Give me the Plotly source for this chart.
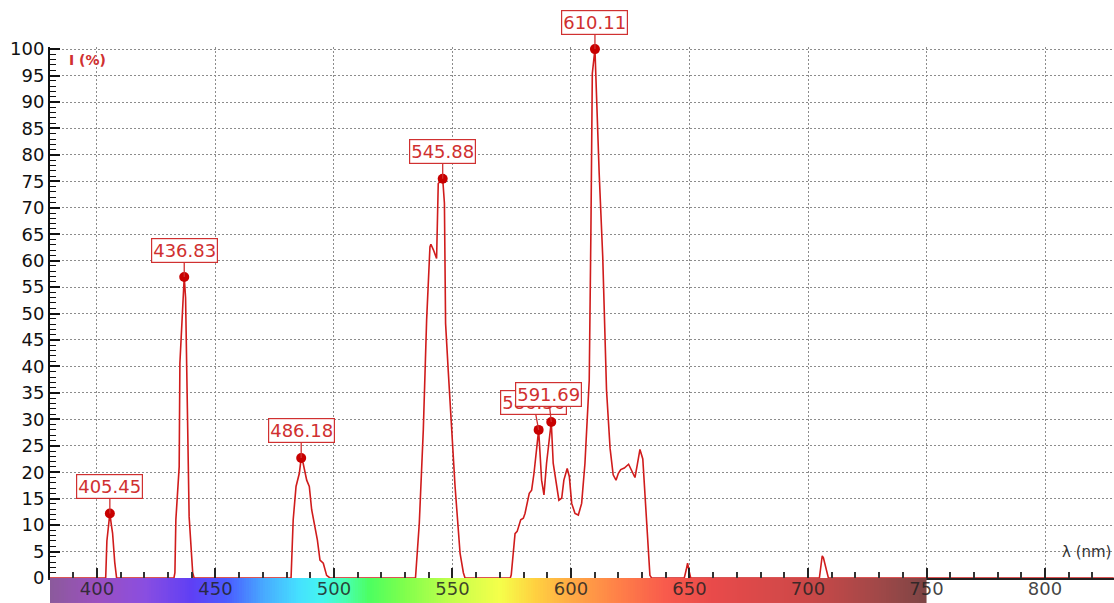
import numpy as np
import plotly.graph_objects as go

# ---------------- data ----------------
wavelength = [380, 403.7, 404.2, 404.6, 405.45, 406.1, 406.6, 407.5, 408.3,
              432.5, 432.9, 433.3, 434.7, 435.0, 436.2, 436.83, 437.4, 437.8, 438.9, 440.4, 441.0,
              481.9, 482.8, 484.0, 485.4, 486.18, 487.0, 488.5, 489.6, 490.6, 491.6, 493.0, 494.1, 495.5, 496.9, 498.3,
              534.4, 536.0, 537.7, 539.1, 540.5, 540.9, 542.0, 543.3, 544.0, 545.88, 546.6, 547.1, 548.2, 549.0,
              551.1, 553.2, 554.6, 555.3,
              574.4, 574.8, 576.4, 577.3, 578.2, 578.8, 579.9, 580.6, 582.4, 583.4, 584.4, 586.36, 587.6, 588.6,
              589.7, 591.69, 592.5, 594.0, 594.9, 596.1, 597.0, 598.4, 599.3, 600.3, 601.7, 603.1, 604.5, 605.9,
              606.9, 607.7, 608.4, 609.0, 610.11, 610.4, 611.9, 613.4, 614.3, 615.0, 616.5, 617.8, 619.0, 620.0,
              621.0, 622.5, 624.3, 625.6, 627.0, 628.0, 629.1, 630.3, 631.3, 632.3, 633.3, 634.0,
              647.8, 648.6, 649.2, 649.9, 650.5,
              704.8, 705.3, 706.0, 706.5, 707.2, 707.8, 708.6,
              829]
intensity = [0, 0, 7.0, 9.1, 12.2, 10.0, 8.5, 3.0, 0,
             0, 1.0, 11.0, 21.0, 40.6, 51.6, 56.9, 53.0, 40.6, 11.6, 1.0, 0,
             0, 11.0, 17.3, 19.8, 22.7, 21.7, 18.5, 17.3, 12.9, 10.4, 7.2, 3.4, 2.8, 0.5, 0,
             0, 10.3, 28.0, 48.8, 62.6, 63.1, 62.0, 60.4, 74.6, 75.5, 70.9, 48.1, 39.3, 33.0,
             17.3, 4.7, 1.0, 0,
             0, 0.6, 8.4, 8.8, 10.3, 11.0, 11.3, 12.2, 16.0, 16.6, 19.8, 28.0, 18.5, 15.7,
             21.7, 29.5, 21.7, 17.3, 14.7, 15.1, 18.5, 20.7, 19.2, 14.1, 12.2, 11.9, 14.1, 21.7,
             31.0, 37.4, 65.2, 95.4, 100.0, 95.4, 76.5, 60.7, 48.1, 35.5, 24.5, 19.5, 18.5, 19.8,
             20.5, 20.8, 21.5, 20.4, 19.0, 21.5, 24.3, 22.5, 15.0, 6.0, 0.5, 0,
             0, 1.5, 2.8, 1.2, 0,
             0, 2.0, 4.2, 3.8, 2.5, 1.0, 0,
             0]

peak_wavelength = [405.45, 436.83, 486.18, 545.88, 586.36, 591.69, 610.11]
peak_intensity = [12.2, 56.9, 22.7, 75.5, 28.0, 29.5, 100.0]
peak_labels = ["405.45", "436.83", "486.18", "545.88", "586.36", "591.69", "610.11"]
peak_label_dx = [0, 0, 0, 0, -5, -3, 0]

y_ticks = list(range(0, 101, 5))
x_tick_values = [400, 450, 500, 550, 600, 650, 700, 750, 800]
x_tick_labels = ["400", "450", "500", "550", "600", "650", "700", "750", "800"]

spectrum_nm = [380, 400, 420, 440, 455, 470, 485, 495, 505, 515, 530, 550, 570, 585, 600, 620, 640, 660, 700, 730, 750]
spectrum_colors = ["#8b5a9b", "#9b50c0", "#8a4ee0", "#5f3ff5", "#4a5cff", "#48a8ff", "#45e0ff", "#45f5f0",
                   "#48ffb0", "#4cff60", "#80ff4c", "#c4ff4c", "#f5ff4a", "#ffd040", "#ffaa45", "#ff8048",
                   "#f85a4c", "#e84a4a", "#cc4848", "#a04848", "#7d4545"]

# ---------------- styling ----------------
RED = "#d01c1c"
LABEL_RED = "#d03030"
FONT = "DejaVu Sans"

fig = go.Figure()

# spectrum colour bar (below the axis)
edges = np.arange(spectrum_nm[0], spectrum_nm[-1] + 1, 1.0)
centers = (edges[:-1] + edges[1:]) / 2
lo, hi = spectrum_nm[0], spectrum_nm[-1]
colorscale = [[(v - lo) / (hi - lo), c] for v, c in zip(spectrum_nm, spectrum_colors)]
fig.add_trace(go.Heatmap(x=edges, y=[0, 1], z=[centers], colorscale=colorscale, zmin=lo, zmax=hi,
                         showscale=False, hoverinfo="skip", xaxis="x2", yaxis="y2"))
fig.add_trace(go.Scatter(x=x_tick_values, y=[0.5] * len(x_tick_values), text=x_tick_labels, mode="text",
                         textposition="middle center",
                         textfont=dict(family=FONT, size=18, color="rgba(35,35,35,0.85)"),
                         hoverinfo="skip", xaxis="x2", yaxis="y2", cliponaxis=False))

# spectrum line
fig.add_trace(go.Scatter(x=wavelength, y=intensity, mode="lines",
                         line=dict(color=RED, width=1.6), hoverinfo="skip", cliponaxis=True))
# peak markers
fig.add_trace(go.Scatter(x=peak_wavelength, y=peak_intensity, mode="markers",
                         marker=dict(color="#c80000", size=10), hoverinfo="skip", cliponaxis=False))

annotations = []
for xw, yv, lab, dx in zip(peak_wavelength, peak_intensity, peak_labels, peak_label_dx):
    annotations.append(dict(x=xw, y=yv, xref="x", yref="y", text=lab, showarrow=True, arrowhead=0,
                            arrowwidth=1.3, arrowcolor=LABEL_RED, ax=dx, ay=-27,
                            font=dict(family=FONT, size=18, color=LABEL_RED),
                            bgcolor="white", bordercolor=LABEL_RED, borderwidth=1.2, borderpad=1))
annotations.append(dict(x=387.5, y=97.9, xref="x", yref="y", text="<b>I (%)</b>", showarrow=False,
                        xanchor="left", yanchor="middle", font=dict(family=FONT, size=14, color=LABEL_RED)))
annotations.append(dict(x=828.5, y=4.9, xref="x", yref="y", text="λ (nm)", showarrow=False,
                        xanchor="right", yanchor="middle", font=dict(family=FONT, size=15, color="#333333")))

grid = dict(gridcolor="#8c8c8c", gridwidth=1, griddash="2px,2px")

fig.update_layout(
    width=1114, height=603,
    margin=dict(l=50, r=0, t=47, b=0, autoexpand=False),
    paper_bgcolor="white", plot_bgcolor="white",
    showlegend=False,
    annotations=annotations,
    xaxis=dict(range=[380.2, 829.1], anchor="y", tickmode="array", tickvals=x_tick_values, automargin=False,
               showticklabels=False, ticks="inside", ticklen=10, tickwidth=2, tickcolor="#222222",
               minor=dict(dtick=10, tick0=400, ticks="inside", ticklen=6, tickwidth=1.5, tickcolor="#333333",
                          showgrid=False),
               showline=True, linecolor="#222222", linewidth=1.5, zeroline=False, showgrid=True, **grid),
    yaxis=dict(domain=[0.045, 1], range=[0, 100.4], anchor="x", tickmode="array", tickvals=y_ticks,
               automargin=False,
               ticks="inside", ticklen=10, tickwidth=2, tickcolor="#111111",
               minor=dict(dtick=1, tick0=0, ticks="inside", ticklen=6, tickwidth=1.2, tickcolor="#111111",
                          showgrid=False),
               tickfont=dict(family=FONT, size=18, color="#111111"),
               showline=True, linecolor="#111111", linewidth=2, zeroline=False, showgrid=True, **grid),
    xaxis2=dict(matches="x", anchor="y2", showgrid=False, showticklabels=False, ticks="", automargin=False,
                showline=False, zeroline=False),
    yaxis2=dict(domain=[0, 0.045], range=[0, 1], anchor="x2", visible=False, automargin=False),
)

# remove the page's default body margin so the 1114x603 figure fills the window exactly
page_fix = "document.body.style.margin='0px';document.body.style.overflow='hidden';"
fig.write_html("out.html", post_script=page_fix, config={"displayModeBar": False})
